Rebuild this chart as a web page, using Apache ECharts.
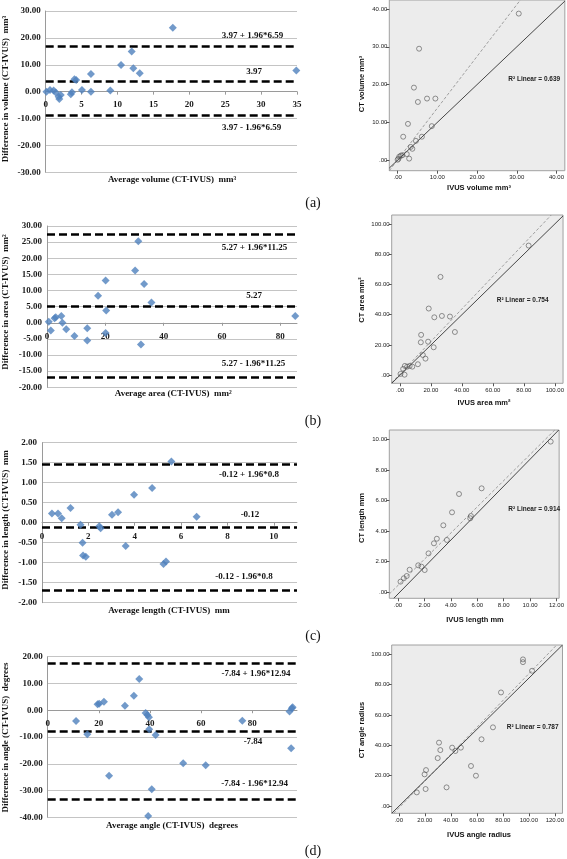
<!DOCTYPE html>
<html><head><meta charset="utf-8">
<script src="https://cdn.jsdelivr.net/npm/echarts@6/dist/echarts.min.js"></script>
<style>html,body{margin:0;padding:0;background:#fff}#c{width:567px;height:859px}</style>
</head><body><div id="c"></div>
<script>
// ---------- Bland-Altman data (left column) ----------
const volAvg  = [0.1,0.6,1.1,1.4,1.8,1.9,2.1,3.5,3.65,4.0,4.25,5.05,6.3,6.3,9.0,10.5,11.98,12.2,13.1,17.7,34.9];
const volDiff = [0.0,0.6,0.4,-0.3,-1.9,-2.7,-1.2,-1.0,-0.2,4.6,4.3,0.6,6.6,0.0,0.4,9.9,14.9,8.7,6.8,23.8,7.9];
const volLimits = [16.89, 3.97, -8.95];
const volLimitLabels = ['3.97 + 1.96*6.59', '3.97', '3.97 - 1.96*6.59'];
const volXTicks = [0,5,10,15,20,25,30,35];

const areaAvg  = [0.6,1.3,2.6,3.0,4.9,5.3,6.6,9.4,13.8,13.8,17.5,20.1,20.1,20.3,30.2,31.3,32.2,33.3,35.8,85.1];
const areaDiff = [0.35,-2.4,1.4,1.7,2.1,0.0,-2.0,-4.1,-1.7,-5.5,8.4,13.1,-3.2,3.8,16.2,25.3,-6.7,12.0,6.3,2.1];
const areaLimits = [27.32, 5.27, -16.78];
const areaLimitLabels = ['5.27 + 1.96*11.25', '5.27', '5.27 - 1.96*11.25'];
const areaXTicks = [0,20,40,60,80];

const lenAvg  = [0.43,0.69,0.85,1.23,1.66,1.75,1.77,1.89,2.47,2.53,3.02,3.28,3.61,3.97,4.75,5.24,5.35,5.58,6.67];
const lenDiff = [0.23,0.23,0.11,0.37,-0.05,-0.5,-0.82,-0.85,-0.09,-0.14,0.2,0.26,-0.58,0.7,0.87,-1.03,-0.97,1.53,0.15];
const lenLimits = [1.448, -0.12, -1.688];
const lenLimitLabels = ['-0.12 + 1.96*0.8', '-0.12', '-0.12 - 1.96*0.8'];
const lenXTicks = [0,2,4,6,8,10];

const angAvg  = [11.1,15.5,19.5,20.1,22.0,24.0,30.2,33.7,35.8,38.3,39.0,39.6,39.7,39.3,40.7,42.2,53.0,61.8,76.1,94.6,95.5,95.8,95.2];
const angDiff = [-4.0,-9.0,2.2,2.45,3.2,-24.5,1.7,5.4,11.7,-1.0,-1.8,-2.65,-7.1,-39.5,-29.5,-9.25,-19.8,-20.6,-3.9,-0.5,0.7,1.1,-14.2];
const angLimits = [17.52, -7.84, -33.2];
const angLimitLabels = ['-7.84 + 1.96*12.94', '-7.84', '-7.84 - 1.96*12.94'];
const angXTicks = [0,20,40,60,80];

// ---------- Scatter data (right column) ----------
const volIvus = [30.5,5.4,4.1,5.1,7.4,9.5,2.6,8.6,1.4,4.6,6.1,3.3,3.7,2.3,2.9,0.8,1.2,0.4,0.2,0.0];
const volCt   = [38.8,29.5,19.2,15.4,16.3,16.3,9.6,9.0,6.2,5.1,6.2,3.5,3.0,1.6,0.4,1.2,1.3,0.9,0.35,0.1];
const volSolid  = [[-2.1,-2.1],[42.1,42.1]];
const volDashed = [[-2.1,-2.8],[30.9,42.4]];
const volTicks  = [0,10,20,30,40];

const areaIvus = [83.1,26.2,18.6,22.2,27.1,32.3,35.5,13.7,13.5,18.2,21.8,14.8,16.5,11.6,8.0,6.3,4.7,3.2,2.1,0.4,3.0];
const areaCt   = [85.7,65.0,44.1,38.3,39.2,38.8,28.6,26.7,21.8,22.2,18.5,13.4,11.0,7.3,5.7,6.2,5.7,6.2,4.2,0.9,0.4];
const areaSolid  = [[-5.3,-5.3],[105.3,105.3]];
const areaDashed = [[-5.3,-4.9],[97.7,105.9]];
const areaTicks  = [0,20,40,60,80,100];

const lenIvus = [11.56,6.33,4.62,4.09,5.52,5.47,3.43,2.94,2.72,3.70,2.31,1.53,1.78,2.02,0.88,0.66,0.44,0.19];
const lenCt   = [9.85,6.79,6.42,5.22,4.98,4.83,4.37,3.49,3.19,3.41,2.53,1.75,1.66,1.44,1.46,1.05,0.90,0.68];
const lenSolid  = [[-0.32,-0.41],[12.17,10.61]];
const lenDashed = [[-0.66,-0.13],[11.87,10.61]];
const lenXTicksR = [0,2,4,6,8,10,12];
const lenYTicksR = [0,2,4,6,8,10];

const angIvus = [95.5,95.5,102.5,78.6,72.4,63.6,30.9,31.9,41.0,47.7,43.5,29.9,55.5,59.3,20.9,19.8,20.6,36.7,13.8];
const angCt   = [96.7,94.9,89.2,74.9,51.9,44.0,41.8,36.9,38.5,38.5,36.3,31.6,26.4,20.0,23.7,20.9,11.2,12.3,9.0];
const angSolid  = [[-5.5,-4.8],[125.9,106.2]];
const angDashed = [[-4.0,-4.8],[121.4,106.2]];
const angXTicksR = [0,20,40,60,80,100,120];
const angYTicksR = [0,20,40,60,80,100];

const r2Labels = ['0.639','0.754','0.914','0.787'];

// ---------- styling ----------
const SERIF = '"Liberation Serif","Times New Roman",serif';
const SANS  = '"Liberation Sans",Arial,sans-serif';

const zip = (a,b) => a.map((v,i)=>[v,b[i]]);

const ba = [
  {avg:volAvg, diff:volDiff, lim:volLimits, labels:volLimitLabels, grid:{left:45.7,top:11,width:251.3,height:161.3},
   x:{min:0,max:35,ticks:volXTicks}, y:{min:-30,max:30,interval:10},
   xt:'Average volume (CT-IVUS)  mm³', yt:'Difference in volume (CT-IVUS)  mm³', xtPos:[172,180], ytPos:[5.5,89],
   labPos:[[252.5,35.7],[254,71.7],[251.7,127.7]]},
  {avg:areaAvg, diff:areaDiff, lim:areaLimits, labels:areaLimitLabels, grid:{left:47,top:226,width:250,height:161.3},
   x:{min:0,max:85.7,ticks:areaXTicks}, y:{min:-20,max:30,interval:5},
   xt:'Average area (CT-IVUS)  mm²', yt:'Difference in area (CT-IVUS)  mm²', xtPos:[173.3,394], ytPos:[5.5,302],
   labPos:[[254.5,248],[254,296],[253.5,363.3]]},
  {avg:lenAvg, diff:lenDiff, lim:lenLimits, labels:lenLimitLabels, grid:{left:42,top:442.7,width:255,height:160},
   x:{min:0,max:11,ticks:lenXTicks}, y:{min:-2,max:2,interval:0.5},
   xt:'Average length (CT-IVUS)  mm', yt:'Difference in length (CT-IVUS)  mm', xtPos:[169,610.7], ytPos:[5.5,520],
   labPos:[[249,474.3],[250,515],[244,577]]},
  {avg:angAvg, diff:angDiff, lim:angLimits, labels:angLimitLabels, grid:{left:47.7,top:656.7,width:249.3,height:160.6},
   x:{min:0,max:97.5,ticks:angXTicks}, y:{min:-40,max:20,interval:10},
   xt:'Average angle (CT-IVUS)  degrees', yt:'Difference in angle (CT-IVUS)  degrees', xtPos:[172,826], ytPos:[5.5,737.5],
   labPos:[[256,674],[253,742],[254.7,784]]}
];

const sc = [
  {x:volIvus, y:volCt, solid:volSolid, dashed:volDashed, grid:{left:389.3,top:-1,width:177.4,height:171.7},
   xr:[-2.1,42.1], yr:[-2.8,42.4], xticks:volTicks, yticks:volTicks,
   xt:'IVUS volume mm³', yt:'CT volume mm³', xtPos:[479,188.3], ytPos:[361.7,84], r2Pos:[508.3,79]},
  {x:areaIvus, y:areaCt, solid:areaSolid, dashed:areaDashed, grid:{left:391.7,top:215,width:174.3,height:168.3},
   xr:[-5.3,105.3], yr:[-5.3,105.9], xticks:areaTicks, yticks:areaTicks,
   xt:'IVUS area mm²', yt:'CT area mm²', xtPos:[484,402.7], ytPos:[361.7,300], r2Pos:[496.7,300.7]},
  {x:lenIvus, y:lenCt, solid:lenSolid, dashed:lenDashed, grid:{left:389.3,top:430,width:176.4,height:168.3},
   xr:[-0.66,12.2], yr:[-0.41,10.61], xticks:lenXTicksR, yticks:lenYTicksR,
   xt:'IVUS length mm', yt:'CT length mm', xtPos:[475,620], ytPos:[361.7,518], r2Pos:[508.3,509.3]},
  {x:angIvus, y:angCt, solid:angSolid, dashed:angDashed, grid:{left:391.7,top:645,width:174.3,height:168.3},
   xr:[-5.5,125.9], yr:[-4.8,106.2], xticks:angXTicksR, yticks:angYTicksR,
   xt:'IVUS angle radius', yt:'CT angle radius', xtPos:[479,835], ytPos:[361.7,730], r2Pos:[506.7,727.7]}
];

const panelLetters = [['(a)',313,203.5],['(b)',313,421],['(c)',313,636],['(d)',313,851]];

const grids = [], xAxes = [], yAxes = [], series = [], graphics = [];

function txt(x, y, text, o) {
  return {type:'text', x, y, rotation:o.rot||0, silent:true, z:100,
    style:{text, fill:o.fill||'#111', fontFamily:o.family, fontSize:o.size, fontWeight:o.weight||'normal',
      align:o.align||'center', verticalAlign:'middle'}};
}

ba.forEach((p, i) => {
  grids.push(Object.assign({show:false}, p.grid));
  // x axis crosses the value axis at zero (Excel style): shift it up from the bottom by the zero position
  const zeroOffset = -p.grid.height * (0 - p.y.min) / (p.y.max - p.y.min);
  xAxes.push({gridIndex:i, type:'value', min:p.x.min, max:p.x.max, position:'bottom', offset:zeroOffset,
    axisLine:{show:true, onZero:false, lineStyle:{color:'#9a9a9a', width:1}},
    axisTick:{show:true, length:3, customValues:p.x.ticks, lineStyle:{color:'#9a9a9a'}},
    axisLabel:{customValues:p.x.ticks, fontFamily:SERIF, fontWeight:'bold', fontSize:9, color:'#1a1a1a', margin:9,
      formatter:v=>String(v)},
    splitLine:{show:false}});
  yAxes.push({gridIndex:i, type:'value', min:p.y.min, max:p.y.max, interval:p.y.interval,
    axisLine:{show:true, onZero:false, lineStyle:{color:'#9a9a9a', width:1}},
    axisTick:{show:false},
    axisLabel:{fontFamily:SERIF, fontWeight:'bold', fontSize:9, color:'#1a1a1a', margin:5, formatter:v=>v.toFixed(2)},
    splitLine:{show:true, lineStyle:{color:'#c4c4c4', width:1}}});
  series.push({type:'scatter', xAxisIndex:i, yAxisIndex:i, data:zip(p.avg, p.diff), symbol:'diamond', symbolSize:8,
    itemStyle:{color:'#4f81bd'}, z:5,
    markLine:{silent:true, symbol:'none', animation:false, label:{show:false},
      lineStyle:{color:'#000', width:2.5, type:[8,4]},
      data:p.lim.map(v=>({yAxis:v}))}});
  p.labels.forEach((t, k) => graphics.push(txt(p.labPos[k][0], p.labPos[k][1], t, {family:SERIF, size:9, weight:'bold'})));
  graphics.push(txt(p.xtPos[0], p.xtPos[1], p.xt, {family:SERIF, size:9, weight:'bold'}));
  graphics.push(txt(p.ytPos[0], p.ytPos[1], p.yt, {family:SERIF, size:9, weight:'bold', rot:Math.PI/2}));
});

const rfmt = v => v === 0 ? '.00' : v.toFixed(2);
sc.forEach((p, j) => {
  const i = j + 4;
  grids.push(Object.assign({show:true, backgroundColor:'#ececec', borderColor:'#a0a0a0', borderWidth:1}, p.grid));
  xAxes.push({gridIndex:i, type:'value', min:p.xr[0], max:p.xr[1],
    axisLine:{show:false, onZero:false},
    axisTick:{show:true, length:3, customValues:p.xticks, lineStyle:{color:'#555'}},
    axisLabel:{customValues:p.xticks, fontFamily:SANS, fontSize:6, color:'#222', margin:4, formatter:rfmt},
    splitLine:{show:false}});
  yAxes.push({gridIndex:i, type:'value', min:p.yr[0], max:p.yr[1],
    axisLine:{show:false, onZero:false},
    axisTick:{show:true, length:3, customValues:p.yticks, lineStyle:{color:'#555'}},
    axisLabel:{customValues:p.yticks, fontFamily:SANS, fontSize:6, color:'#222', margin:2, formatter:rfmt},
    splitLine:{show:false}});
  series.push({type:'line', xAxisIndex:i, yAxisIndex:i, data:p.dashed, symbol:'none', silent:true,
    lineStyle:{color:'#8a8a8a', width:0.8, type:[3,2]}, z:3});
  series.push({type:'line', xAxisIndex:i, yAxisIndex:i, data:p.solid, symbol:'none', silent:true,
    lineStyle:{color:'#333', width:0.9}, z:3});
  series.push({type:'scatter', xAxisIndex:i, yAxisIndex:i, data:zip(p.x, p.y), symbol:'circle', symbolSize:5,
    itemStyle:{color:'rgba(0,0,0,0)', borderColor:'#555', borderWidth:0.8}, z:5});
  graphics.push(txt(p.r2Pos[0], p.r2Pos[1], 'R² Linear = ' + r2Labels[j], {family:SANS, size:6.5, weight:'bold', align:'left', fill:'#222'}));
  graphics.push(txt(p.xtPos[0], p.xtPos[1], p.xt, {family:SANS, size:7.5, weight:'bold', fill:'#111'}));
  graphics.push(txt(p.ytPos[0], p.ytPos[1], p.yt, {family:SANS, size:7.5, weight:'bold', fill:'#111', rot:Math.PI/2}));
});

panelLetters.forEach(([t,x,y]) => graphics.push(txt(x, y, t, {family:SERIF, size:14, fill:'#111'})));

const chart = echarts.init(document.getElementById('c'), null, {renderer:'canvas'});
chart.setOption({
  animation:false,
  backgroundColor:'#fff',
  grid:grids, xAxis:xAxes, yAxis:yAxes, series, graphic:graphics
});
</script></body></html>
